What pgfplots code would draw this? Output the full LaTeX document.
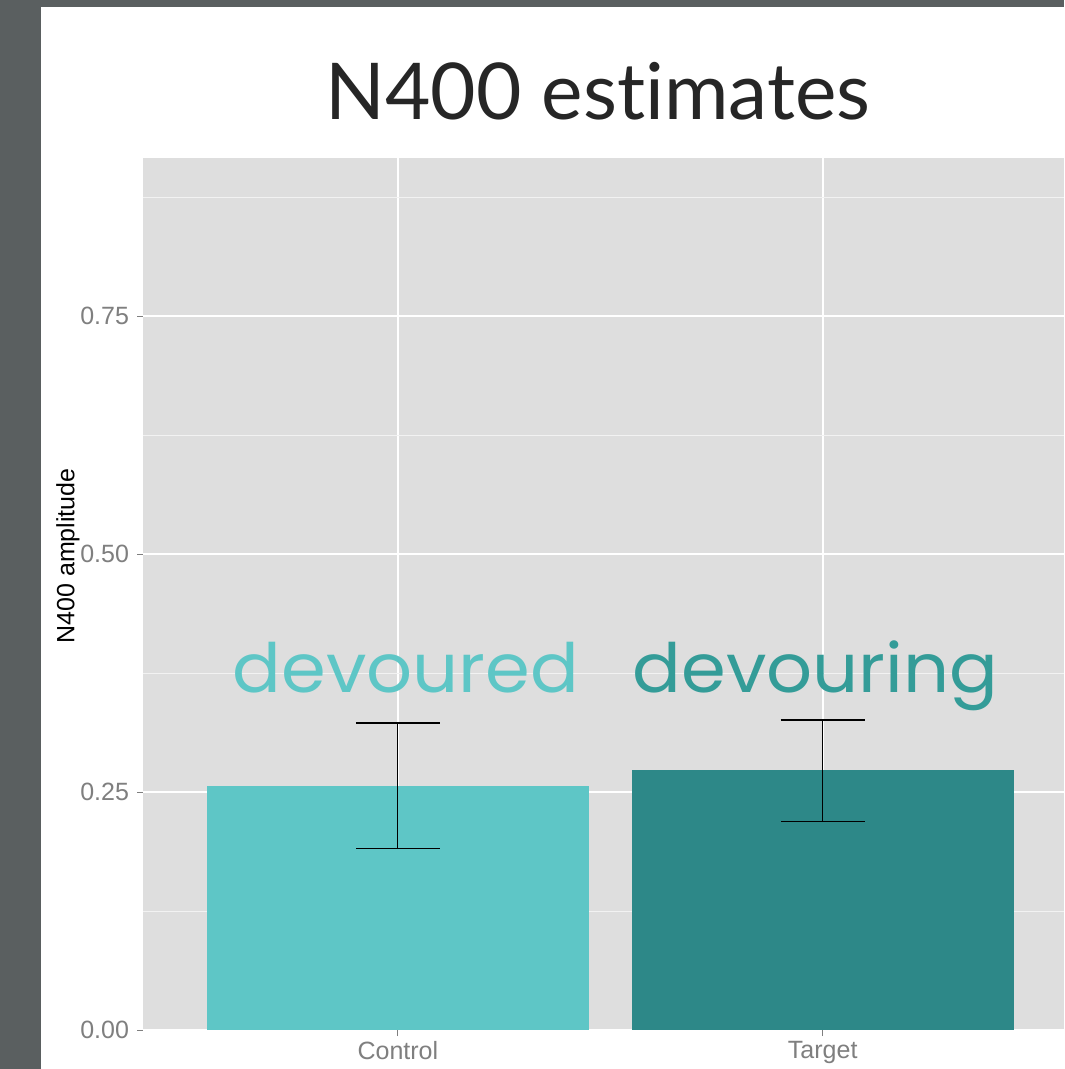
\documentclass[border=0pt]{standalone}
\usepackage{pgfplots}
\pgfplotsset{compat=1.18}
\usepackage{fontspec}
\setmainfont{Liberation Sans}
\newfontfamily\titlefont[Ligatures=NoCommon]{Lato}
\newfontfamily\handfont{Poppins}
\definecolor{frame}{HTML}{5A5F60}
\definecolor{panel}{HTML}{DEDEDE}
\definecolor{ctrl}{HTML}{5EC6C6}
\definecolor{targ}{HTML}{2D8888}
\definecolor{targtxt}{HTML}{349C98}
\definecolor{tickgray}{HTML}{7F7F7F}
\begin{document}
\begin{tikzpicture}
% page: 1064 x 1069 px, 1 px = 0.5pt
\useasboundingbox (0,0) rectangle (532pt,534.5pt);
\fill[white] (0,0) rectangle (532pt,534.5pt);
\fill[frame] (0,0) rectangle (20.5pt,534.5pt);
\fill[frame] (0,531pt) rectangle (532pt,534.5pt);

\begin{axis}[
    at={(71.5pt,19.5pt)}, anchor=south west,
    scale only axis,
    width=460.5pt, height=436pt,
    xmin=0.4, xmax=2.568,
    ymin=0, ymax=0.916,
    axis background/.style={fill=panel},
    axis line style={draw=none},
    xtick={1,2}, xticklabels={Control,Target},
    ytick={0,0.25,0.5,0.75},
    minor ytick={0.125,0.375,0.625,0.875},
    yticklabel style={/pgf/number format/fixed, /pgf/number format/fixed zerofill,
        /pgf/number format/precision=2, xshift=-0.5pt},
    /pgf/number format/assume math mode=true,
    grid=both,
    major grid style={white, line width=0.9pt},
    minor grid style={white!60!panel, line width=0.5pt},
    tick align=outside,
    major tick length=3pt,
    minor tick length=0pt,
    tick style={tickgray, line width=0.5pt},
    ticklabel style={font=\fontsize{12.5}{14}\selectfont, text=tickgray},
    xticklabel style={yshift=1pt},
    xtick pos=bottom, ytick pos=left,
    clip=false,
]
\addplot[ybar, bar shift=0pt, bar width=0.9, fill=ctrl, draw=none,
    error bars/.cd, y dir=both, y explicit,
    error bar style={black, line width=0.6pt},
    error mark options={black, line width=0.6pt, mark size=21pt, rotate=90}]
    coordinates {(1,0.256) += (0,0.0665) -= (0,0.065)};
\addplot[ybar, bar shift=0pt, bar width=0.9, fill=targ, draw=none,
    error bars/.cd, y dir=both, y explicit,
    error bar style={black, line width=0.6pt},
    error mark options={black, line width=0.6pt, mark size=21pt, rotate=90}]
    coordinates {(2,0.273) += (0,0.0526) -= (0,0.0536)};
\node[anchor=base, text=ctrl, xscale=1.06, font=\handfont\fontsize{34}{36}\selectfont]
    at (axis cs:1.019,0.354) {devoured};
\node[anchor=base, text=targtxt, xscale=1.06, font=\handfont\fontsize{34}{36}\selectfont]
    at (axis cs:1.983,0.354) {devouring};
\end{axis}

\node[rotate=90, font=\fontsize{12.5}{14}\selectfont] at (34pt,256.5pt) {N400 amplitude};
\node[anchor=base, font=\titlefont\fontsize{39.2}{42}\selectfont, text=black!85]
    at (299pt,474.5pt) {N400 estimates};
\end{tikzpicture}
\end{document}
